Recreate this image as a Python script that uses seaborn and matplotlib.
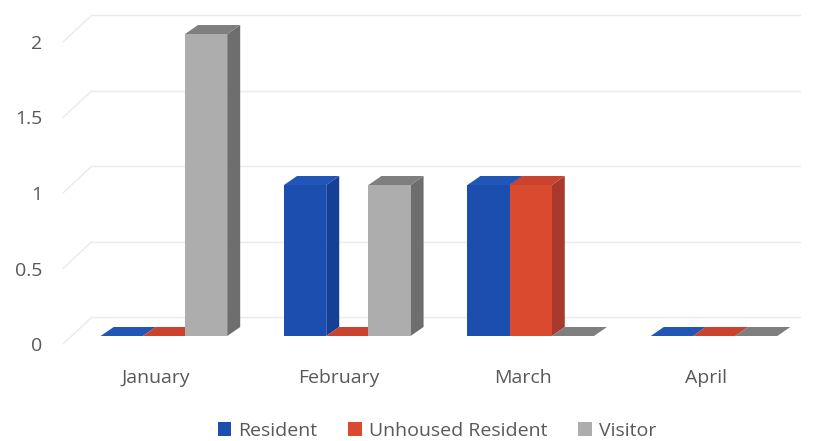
import matplotlib
matplotlib.use("Agg")
import matplotlib.pyplot as plt
import matplotlib.transforms as mtrans
from matplotlib.patches import Polygon
import seaborn as sns
import pandas as pd

# ---- data ----
months = ["January", "February", "March", "April"]
series = ["Resident", "Unhoused Resident", "Visitor"]
resident = [0, 1, 1, 0]
unhoused = [0, 0, 1, 0]
visitor = [2, 1, 0, 0]
yticks = [0, 0.5, 1, 1.5, 2]
ytick_labels = ["0", "0.5", "1", "1.5", "2"]

front_colors = {"Resident": "#1b4eae", "Unhoused Resident": "#d94a2e", "Visitor": "#adadad"}
side_colors = {"Resident": "#163f96", "Unhoused Resident": "#a9392f", "Visitor": "#6e6e6e"}
top_colors = {"Resident": "#2155b6", "Unhoused Resident": "#c9432f", "Visitor": "#7f7f7f"}

df = pd.DataFrame({
    "month": months * 3,
    "series": [s for s in series for _ in months],
    "value": resident + unhoused + visitor,
})

sns.set_theme(style="white")
plt.rcParams["font.family"] = ["Open Sans", "DejaVu Sans"]

W, H = 828, 441
fig = plt.figure(figsize=(W / 100, H / 100), dpi=100)
ax_left_px, ax_right_px = 72.25, 805.75
ax_top_px, ax_bot_px = 11.35, 351.1
ax = fig.add_axes([ax_left_px / W, (H - ax_bot_px) / H,
                   (ax_right_px - ax_left_px) / W, (ax_bot_px - ax_top_px) / H])

sns.barplot(data=df, x="month", y="value", hue="series", order=months,
            hue_order=series, palette=front_colors, width=0.69, gap=0,
            saturation=1, linewidth=0, ax=ax, errorbar=None)
ax.set_xlim(-0.5, 3.5)
ax.set_ylim(-0.1, 2.15)

# pixel -> data scale
px_x = (ax_right_px - ax_left_px) / 4.0
px_y = (ax_bot_px - ax_top_px) / 2.25
dx, dy = 13 / px_x, 9 / px_y

# 3D faces for each bar
bars = []
for s, cont in zip(series, ax.containers):
    for rect in cont.patches:
        bars.append((rect.get_x(), s, rect))
bars.sort(key=lambda b: b[0])
for k, (x0, s, rect) in enumerate(bars):
    w = rect.get_width()
    h = rect.get_height()
    x1 = x0 + w
    z = 3 + 3 * k
    side = Polygon([(x1, 0), (x1 + dx, dy), (x1 + dx, h + dy), (x1, h)],
                   closed=True, facecolor=side_colors[s], edgecolor="none", zorder=z)
    top = Polygon([(x0, h), (x0 + dx, h + dy), (x1 + dx, h + dy), (x1, h)],
                  closed=True, facecolor=top_colors[s], edgecolor="none", zorder=z + 1)
    ax.add_patch(side)
    ax.add_patch(top)
    rect.set_zorder(z + 2)

# gridlines (back wall + left wall slant)
x_front = -0.5 + (63 - ax_left_px) / px_x
x_back = -0.5 + (92 - ax_left_px) / px_x
x_end = -0.5 + (800 - ax_left_px) / px_x
for v in yticks:
    yb = v + 19 / px_y
    yf = v - 8 / px_y
    ax.plot([x_back, x_end], [yb, yb], color="#eaeaea", lw=1.0, zorder=1, clip_on=False)
    ax.plot([x_front, x_back], [yf, yb], color="#eaeaea", lw=1.0, zorder=1, clip_on=False)

for sp in ax.spines.values():
    sp.set_visible(False)
ax.set_xlabel("")
ax.set_ylabel("")
ax.grid(False)

ax.set_yticks(yticks)
ax.set_yticklabels(ytick_labels)
ax.tick_params(axis="y", length=0, pad=(ax_left_px - 42) * 0.72, labelsize=14, labelcolor="#595959")
ax.tick_params(axis="x", length=0, pad=13, labelsize=14, labelcolor="#595959")
for lab in ax.get_yticklabels():
    lab.set_transform(lab.get_transform() + mtrans.ScaledTranslation(0, -8 / 100, fig.dpi_scale_trans))
for lab in ax.get_xticklabels():
    lab.set_transform(lab.get_transform() + mtrans.ScaledTranslation(-8 / 100, 0, fig.dpi_scale_trans))

handles, labels = ax.get_legend_handles_labels()
if ax.get_legend() is not None:
    ax.get_legend().remove()
fig.legend(handles, labels, loc="center", bbox_to_anchor=(437 / W, 1 - 431 / H),
           ncol=3, frameon=False, fontsize=14, handlelength=0.7, handleheight=0.7,
           handletextpad=0.35, columnspacing=1.6, labelcolor="#595959")

fig.savefig("out.png", dpi=100)
